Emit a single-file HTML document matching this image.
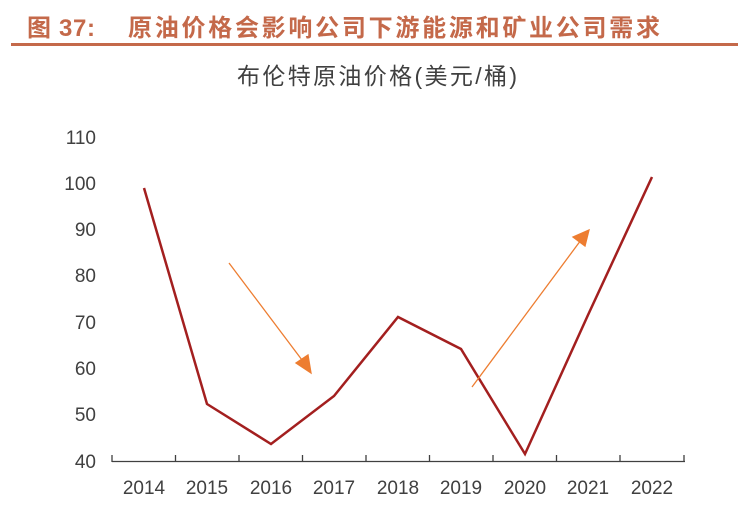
<!DOCTYPE html>
<html><head><meta charset="utf-8"><style>
body{margin:0;background:#fff;width:738px;height:515px;overflow:hidden;}
</style></head><body>
<svg width="738" height="515" xmlns="http://www.w3.org/2000/svg" font-family="'Liberation Sans','Noto Sans CJK SC',sans-serif">
<text x="27" y="36" font-size="24" font-weight="bold" fill="#c4694a" textLength="68" lengthAdjust="spacing">图 37:</text>
<text x="128" y="36" font-size="24" font-weight="bold" fill="#c4694a" textLength="532" lengthAdjust="spacing">原油价格会影响公司下游能源和矿业公司需求</text>
<rect x="11" y="43" width="727" height="3" fill="#c4694a"/>
<text x="237" y="84" font-size="23" fill="#404040" textLength="280" lengthAdjust="spacing">布伦特原油价格(美元/桶)</text>
<g font-size="19" fill="#404040" text-anchor="end">
<text x="96" y="144">110</text><text x="96" y="190">100</text><text x="96" y="236">90</text>
<text x="96" y="282">80</text><text x="96" y="329">70</text><text x="96" y="375">60</text>
<text x="96" y="421">50</text><text x="96" y="468">40</text>
</g>
<line x1="112" y1="461.5" x2="685" y2="461.5" stroke="#404040" stroke-width="1.3"/>
<g stroke="#404040" stroke-width="1.3">
<line x1="112" y1="455" x2="112" y2="462"/><line x1="175.5" y1="455" x2="175.5" y2="462"/><line x1="239" y1="455" x2="239" y2="462"/><line x1="302.5" y1="455" x2="302.5" y2="462"/><line x1="366" y1="455" x2="366" y2="462"/><line x1="429.5" y1="455" x2="429.5" y2="462"/><line x1="493" y1="455" x2="493" y2="462"/><line x1="556.5" y1="455" x2="556.5" y2="462"/><line x1="620" y1="455" x2="620" y2="462"/><line x1="684" y1="455" x2="684" y2="462"/>
</g>
<g font-size="19" fill="#404040" text-anchor="middle">
<text x="144" y="494">2014</text><text x="207" y="494">2015</text><text x="271" y="494">2016</text><text x="334" y="494">2017</text><text x="398" y="494">2018</text><text x="461" y="494">2019</text><text x="525" y="494">2020</text><text x="588" y="494">2021</text><text x="652" y="494">2022</text>
</g>
<polyline fill="none" stroke="#a31f1f" stroke-width="2.5" points="144,188 207,404 271,444 334,396 398,317 461,349 525,454 588,315 652,177"/>
<g stroke="#ed7d31" stroke-width="1.3" fill="#ed7d31">
<line x1="229" y1="263" x2="305" y2="364"/>
<polygon points="311,373 296,363 308,355"/>
<line x1="472" y1="387" x2="581" y2="240"/>
<polygon points="589,230 585,246 573,237"/>
</g>
</svg>
</body></html>
